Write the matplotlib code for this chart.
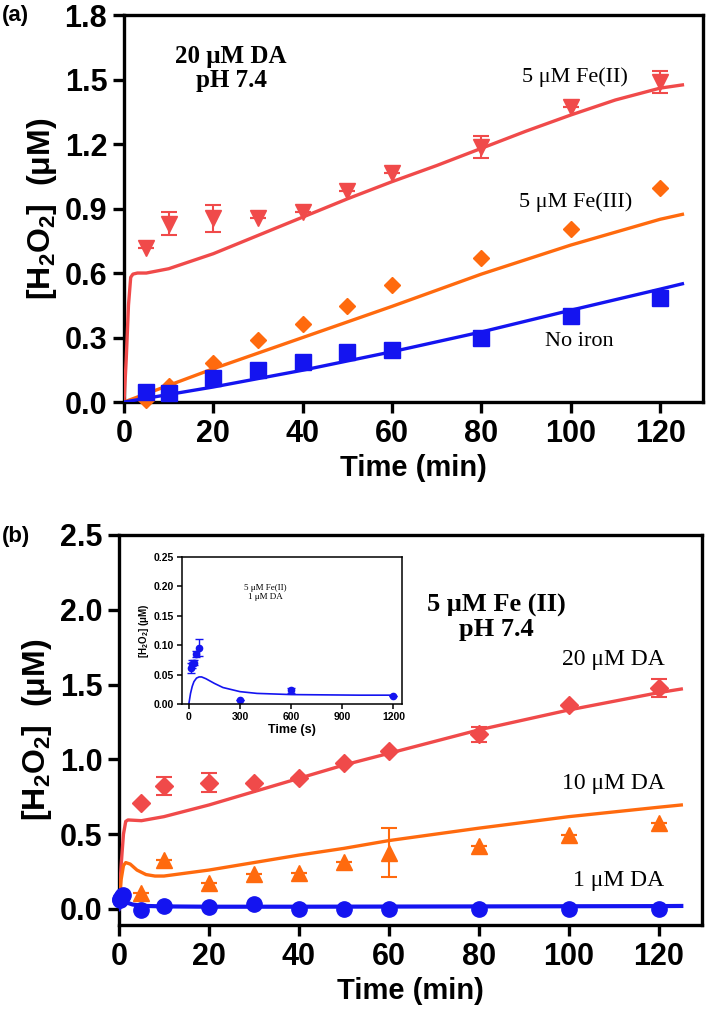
import matplotlib
matplotlib.use("Agg")
import matplotlib.pyplot as plt

plt.rcParams["font.family"] = ["Liberation Sans", "DejaVu Sans"]
plt.rcParams["font.weight"] = "bold"
plt.rcParams["mathtext.fontset"] = "custom"
plt.rcParams["mathtext.rm"] = "Liberation Sans:bold"
plt.rcParams["mathtext.bf"] = "Liberation Sans:bold"
plt.rcParams["mathtext.default"] = "bf"

RED = "#F04A4A"
ORANGE = "#FF6A0E"
BLUE = "#1414F0"
SERIF = ["Liberation Serif", "DejaVu Serif"]

# ---- panel (a): 20 uM DA, pH 7.4 ----
t_meas = [5, 10, 20, 30, 40, 50, 60, 80, 100, 120]
fe2_a = [0.715, 0.83, 0.855, 0.854, 0.885, 0.983, 1.065, 1.185, 1.37, 1.49]
fe2_a_err = [0, 0.055, 0.062, 0, 0, 0, 0, 0.052, 0, 0.052]
fe3_a = [0.01, 0.075, 0.18, 0.29, 0.363, 0.447, 0.544, 0.668, 0.805, 0.994]
noiron_a = [0.048, 0.042, 0.113, 0.149, 0.188, 0.232, 0.243, 0.296, 0.40, 0.485]

t_fit_fe2 = [0, 0.5, 1.0, 1.5, 2, 3, 5, 10, 20, 30, 40, 50, 60, 70, 80, 90, 100, 110, 120, 125]
fit_fe2_a = [0, 0.2, 0.45, 0.58, 0.595, 0.6, 0.6, 0.62, 0.69, 0.775, 0.86, 0.945, 1.025,
             1.1, 1.18, 1.26, 1.335, 1.405, 1.46, 1.475]
t_fit_lin = [0, 20, 40, 60, 80, 100, 120, 125]
fit_fe3_a = [0, 0.155, 0.30, 0.445, 0.595, 0.73, 0.85, 0.873]
fit_noiron_a = [0, 0.07, 0.148, 0.234, 0.326, 0.427, 0.525, 0.55]

# ---- panel (b): 5 uM Fe(II), pH 7.4 ----
da20_b = [0.706, 0.822, 0.845, 0.845, 0.878, 0.978, 1.058, 1.168, 1.364, 1.48]
da20_b_err = [0, 0.06, 0.065, 0, 0, 0, 0, 0.05, 0, 0.06]
da10_b = [0.105, 0.328, 0.176, 0.234, 0.238, 0.316, 0.377, 0.423, 0.495, 0.577]
da10_b_err = [0, 0, 0, 0, 0, 0, 0.165, 0, 0, 0]
t_da1_b = [0.17, 0.33, 0.5, 0.75, 1.0, 5, 10, 20, 30, 40, 50, 60, 80, 100, 120]
da1_b = [0.061, 0.068, 0.070, 0.085, 0.096, -0.01, 0.02, 0.01, 0.03, 0.0, 0.0, 0.0, 0.0, 0.0, 0.0]

t_fit_da20 = [0, 0.5, 1, 1.5, 2, 5, 10, 20, 30, 40, 50, 60, 80, 100, 120, 125]
fit_da20_b = [0.05, 0.3, 0.5, 0.585, 0.595, 0.59, 0.617, 0.695, 0.784, 0.873, 0.962, 1.04,
              1.197, 1.33, 1.446, 1.47]
t_fit_da10 = [0, 0.5, 1, 1.5, 2.5, 4, 6, 8, 10, 20, 30, 40, 50, 60, 80, 100, 120, 125]
fit_da10_b = [0, 0.2, 0.29, 0.31, 0.3, 0.26, 0.23, 0.22, 0.22, 0.26, 0.31, 0.36, 0.405,
              0.457, 0.54, 0.617, 0.68, 0.695]
t_fit_da1 = [0, 0.5, 1.2, 2, 3, 5, 10, 20, 40, 60, 80, 100, 120, 125]
fit_da1_b = [0, 0.03, 0.045, 0.04, 0.03, 0.021, 0.017, 0.015, 0.015, 0.016, 0.017, 0.018,
             0.019, 0.02]

# ---- inset: 1 uM DA, seconds ----
t_in = [10, 20, 30, 45, 60, 300, 600, 1200]
da1_in = [0.061, 0.068, 0.070, 0.085, 0.096, 0.007, 0.023, 0.013]
da1_in_err = [0.009, 0.006, 0.004, 0.005, 0.014, 0, 0.005, 0]
t_fit_in = [0, 10, 20, 30, 45, 60, 75, 100, 150, 200, 300, 400, 500, 600, 800, 1000, 1200]
fit_in = [0, 0.018, 0.030, 0.038, 0.044, 0.046, 0.046, 0.043, 0.035, 0.028, 0.021, 0.018,
          0.017, 0.016, 0.0155, 0.015, 0.015]


def style_main(ax, yticks, ylim):
    ax.set_xlim(0, 129.6)
    ax.set_ylim(*ylim)
    ax.set_xticks([0, 20, 40, 60, 80, 100, 120])
    ax.set_yticks(yticks)
    ax.set_yticklabels([f"{v:.1f}" for v in yticks])
    for s in ax.spines.values():
        s.set_linewidth(2.4)
    ax.tick_params(direction="out", length=8, width=2.4, labelsize=22, pad=4)
    ax.set_xlabel("Time (min)", fontsize=21, fontweight="bold", labelpad=4)
    ax.set_ylabel(r"[H$_2$O$_2$]  (μM)", fontsize=23, fontweight="bold", labelpad=4)


fig = plt.figure(figsize=(7.09, 10.16), dpi=100)

# panel (a)
ax1 = fig.add_axes([0.1749, 0.6043, 0.8166, 0.3809])
ax1.plot(t_fit_fe2, fit_fe2_a, color=RED, lw=2.4, zorder=3)
ax1.plot(t_fit_lin, fit_fe3_a, color=ORANGE, lw=2.4, zorder=3)
ax1.plot(t_fit_lin, fit_noiron_a, color=BLUE, lw=2.4, zorder=3)
ax1.errorbar(t_meas, fe2_a, yerr=fe2_a_err, fmt="v", color=RED, ms=11, capsize=6,
             elinewidth=1.5, capthick=1.5, zorder=4, clip_on=False)
ax1.plot(t_meas, fe3_a, "D", color=ORANGE, ms=8, zorder=4, clip_on=False)
ax1.plot(t_meas, noiron_a, "s", color=BLUE, ms=11, zorder=5, clip_on=False)
style_main(ax1, [0.0, 0.3, 0.6, 0.9, 1.2, 1.5, 1.8], (0, 1.8))
ax1.text(24, 1.55, "20 μM DA\npH 7.4", family=SERIF, fontsize=18, fontweight="bold",
         ha="center", va="center", linespacing=1.05)
ax1.text(101, 1.51, "5 μM Fe(II)", family=SERIF, fontsize=16, fontweight="normal",
         ha="center", va="center")
ax1.text(101, 0.93, "5 μM Fe(III)", family=SERIF, fontsize=16, fontweight="normal",
         ha="center", va="center")
ax1.text(102, 0.28, "No iron", family=SERIF, fontsize=16, fontweight="normal",
         ha="center", va="center")
fig.text(0.003, 0.985, "(a)", fontsize=16, fontweight="bold", va="center")

# panel (b)
ax2 = fig.add_axes([0.1678, 0.0896, 0.8223, 0.3839])
ax2.plot(t_fit_da20, fit_da20_b, color=RED, lw=2.4, zorder=3)
ax2.plot(t_fit_da10, fit_da10_b, color=ORANGE, lw=2.4, zorder=3)
ax2.plot(t_fit_da1, fit_da1_b, color=BLUE, lw=3, zorder=3)
ax2.errorbar(t_meas, da20_b, yerr=da20_b_err, fmt="D", color=RED, ms=9, capsize=6,
             elinewidth=1.5, capthick=1.5, zorder=4, clip_on=False)
ax2.errorbar(t_meas, da10_b, yerr=da10_b_err, fmt="^", color=ORANGE, ms=12, capsize=6,
             elinewidth=1.5, capthick=1.5, zorder=4, clip_on=False)
ax2.plot(t_da1_b, da1_b, "o", color=BLUE, ms=11, zorder=5, clip_on=False)
style_main(ax2, [0.0, 0.5, 1.0, 1.5, 2.0, 2.5], (-0.107, 2.5))
ax2.text(84, 1.95, "5 μM Fe (II)\npH 7.4", family=SERIF, fontsize=19, fontweight="bold",
         ha="center", va="center", linespacing=1.05)
ax2.text(110, 1.67, "20 μM DA", family=SERIF, fontsize=17, fontweight="normal",
         ha="center", va="center")
ax2.text(110, 0.84, "10 μM DA", family=SERIF, fontsize=17, fontweight="normal",
         ha="center", va="center")
ax2.text(111, 0.19, "1 μM DA", family=SERIF, fontsize=17, fontweight="normal",
         ha="center", va="center")
fig.text(0.003, 0.472, "(b)", fontsize=16, fontweight="bold", va="center")

# inset
ax3 = fig.add_axes([0.2567, 0.3071, 0.3103, 0.1447])
ax3.plot(t_fit_in, fit_in, color=BLUE, lw=1.2)
ax3.errorbar(t_in, da1_in, yerr=da1_in_err, fmt="o", color=BLUE, ms=4.5, capsize=3,
             elinewidth=1, capthick=1)
ax3.set_xlim(-40, 1250)
ax3.set_ylim(0, 0.25)
ax3.set_xticks([0, 300, 600, 900, 1200])
ax3.set_yticks([0, 0.05, 0.10, 0.15, 0.20, 0.25])
ax3.set_yticklabels(["0.00", "0.05", "0.10", "0.15", "0.20", "0.25"])
for s in ax3.spines.values():
    s.set_linewidth(1.1)
ax3.tick_params(direction="out", length=3.5, width=1.1, labelsize=7.5, pad=2)
ax3.set_xlabel("Time (s)", fontsize=9, fontweight="bold", labelpad=2)
ax3.set_ylabel(r"[H$_2$O$_2$] (μM)", fontsize=7, fontweight="bold", labelpad=2)
ax3.text(450, 0.19, "5 μM Fe(II)\n1 μM DA", family=SERIF, fontsize=6.5,
         fontweight="normal", ha="center", va="center")

fig.savefig("out.png", dpi=100)
